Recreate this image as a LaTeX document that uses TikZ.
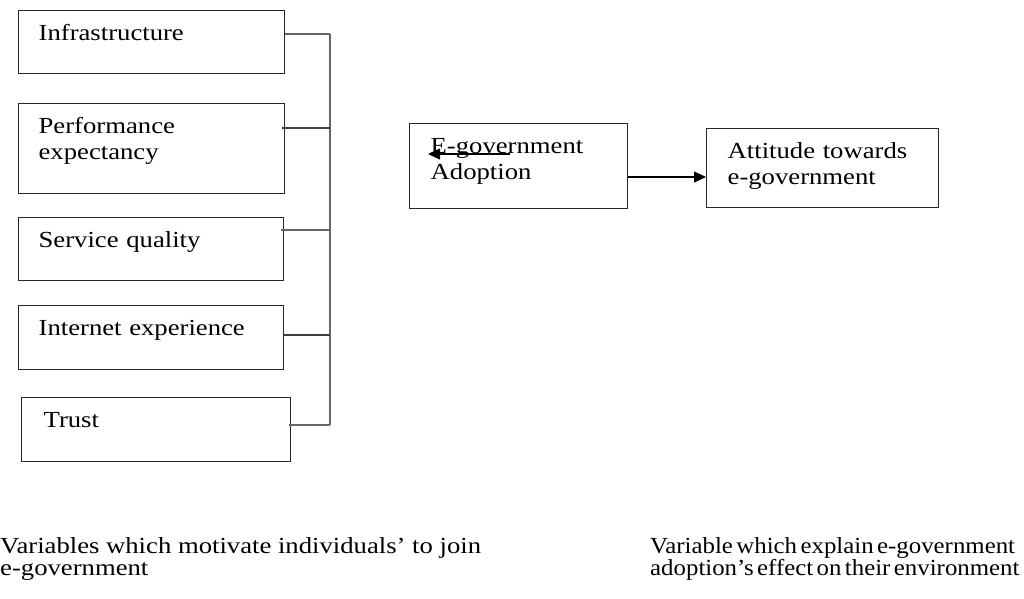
\documentclass[tikz,border=0pt]{standalone}
\usepackage{fontspec}
\setmainfont{Liberation Serif}[FakeStretch=1.16]
\newfontfamily\narrowserif{Liberation Serif}[FakeStretch=1.08,Ligatures=TeX]
\newcommand\capleftfont{\fontsize{23pt}{22pt}\selectfont}
\newcommand\caprightfont{\narrowserif\fontsize{23pt}{22pt}\selectfont\spaceskip 0.15em\relax}
\usetikzlibrary{arrows.meta}
\begin{document}
\begin{tikzpicture}[x=1pt,y=-1pt,
  font=\fontsize{23pt}{26pt}\selectfont,
  box/.style={draw=black!85, line width=1.3pt, rectangle, anchor=north west,
    inner xsep=20pt, inner ysep=0pt, align=left, text height=30pt},
  bus/.style={draw=black!60, line width=1.8pt},
  tap/.style={draw=black!75, line width=1.2pt},
  arr/.style={draw=black, line width=1.2pt, -{Triangle[length=12pt,width=11pt]}},
  note/.style={anchor=base west, inner sep=0pt, align=left}
]
\useasboundingbox (0,0) rectangle (1024,598);

% left column boxes
\node[box, text width=226pt, text depth=33pt] (b1) at (18,10) {Infrastructure};
\node[box, text width=226pt, text depth=60pt] (b2) at (18,103) {Performance\\expectancy};
\node[box, text width=225pt, text depth=33pt] (b3) at (18,217) {Service quality};
\node[box, text width=225pt, text depth=34pt] (b4) at (18,305) {Internet experience};
\node[box, text width=225pt, text depth=34pt, inner xsep=22pt] (b5) at (21,397) {Trust};

% bus coordinates
\coordinate (j1) at (330,34);
\coordinate (j2) at (330,128);
\coordinate (j3) at (330,230);
\coordinate (j4) at (330,335);
\coordinate (j5) at (330,425);

\draw[bus] (j1) -- (j5);
\draw[bus] (b1.east |- j1) -- (j1);
\draw[tap] ([xshift=-3pt]b2.east |- j2) -- (j2);
\draw[bus] ([xshift=-3pt]b3.east |- j3) -- (j3);
\draw[tap] (b4.east |- j4) -- (j4);
\draw[bus] ([xshift=-2pt]b5.east |- j5) -- (j5);

% middle boxes
\node[box, text width=176pt, text depth=55pt, inner xsep=21pt] (eg) at (409,123) {E-government\\Adoption};
\node[box, text width=190pt, text depth=49pt, inner xsep=21pt] (at) at (706,128) {Attitude towards\\e-government};

\draw[arr] (eg.east |- 0,177) -- (at.west |- 0,177);

% small stray arrow inside the adoption box
\coordinate (s1) at (510,154);
\coordinate (s2) at (428,154);
\draw[arr] (s1) -- (s2);

% bottom captions (anchor = baseline of the last line)
\node[note, font=\capleftfont] (c1) at (0,575)
  {Variables which motivate individuals' to join\\e-government};
\node[note, font=\caprightfont] (c2) at (650,575)
  {Variable which explain e-government\\adoption's effect on their environment};
\end{tikzpicture}
\end{document}
